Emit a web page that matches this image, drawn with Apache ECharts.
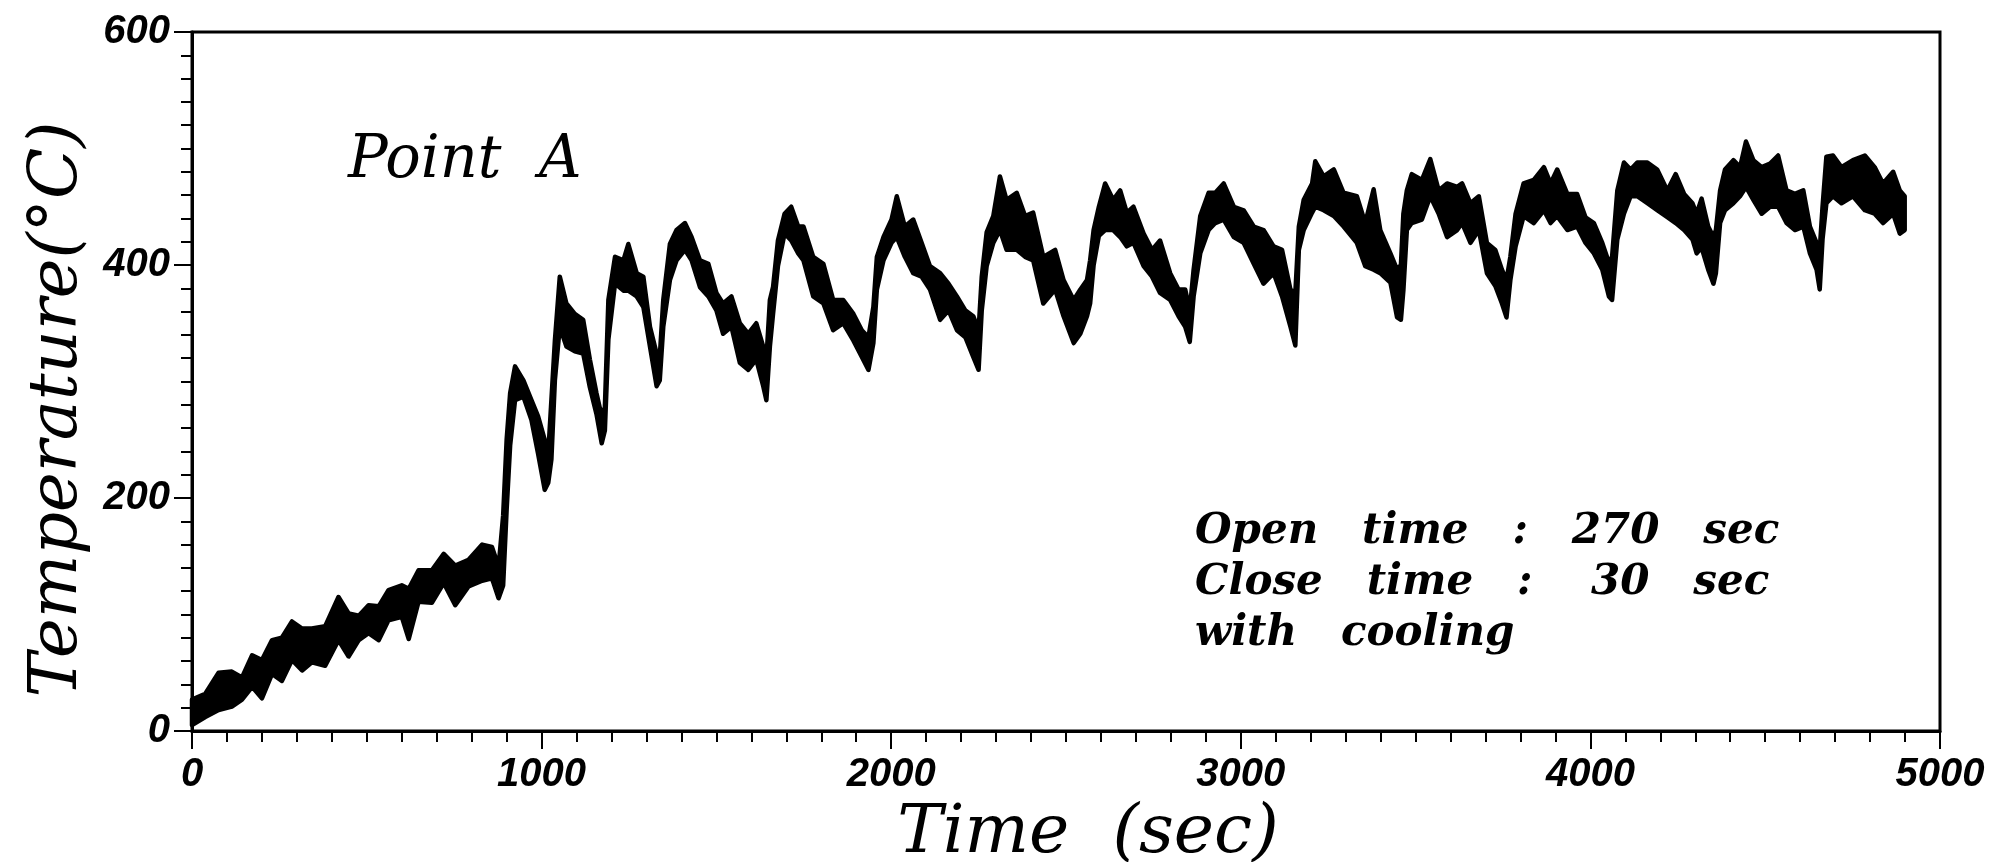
<!DOCTYPE html>
<html>
<head>
<meta charset="utf-8">
<script src="https://cdn.jsdelivr.net/npm/echarts@6.0.0/dist/echarts.min.js"></script>
<style>
  html, body { margin: 0; padding: 0; background: #fff; }
  #chart { width: 2004px; height: 862px; }
</style>
</head>
<body>
<div id="chart"></div>
<script>
// time (sec) and the upper / lower edge of the noisy temperature band
const time = [
  0, 38, 76, 114, 143, 172, 200, 229, 257, 286, 315, 343, 381, 419, 448, 477, 505, 534, 562, 600,
  620, 648, 686, 720, 753, 791, 830, 858, 877, 890, 900, 910, 924, 948, 971, 990, 1009, 1019, 1028, 1038,
  1052, 1071, 1095, 1119, 1138, 1157, 1172, 1181, 1191, 1210, 1234, 1248, 1272, 1291, 1310, 1329, 1338, 1348, 1367, 1386,
  1410, 1429, 1453, 1477, 1500, 1519, 1543, 1567, 1591, 1614, 1634, 1643, 1653, 1662, 1676, 1695, 1714, 1734, 1749, 1777,
  1806, 1834, 1863, 1892, 1916, 1935, 1949, 1959, 1978, 2001, 2016, 2039, 2063, 2087, 2111, 2140, 2164, 2188, 2212, 2235,
  2250, 2259, 2273, 2292, 2311, 2330, 2359, 2383, 2406, 2435, 2469, 2493, 2522, 2541, 2560, 2569, 2579, 2594, 2612, 2635,
  2655, 2674, 2693, 2722, 2746, 2769, 2798, 2822, 2841, 2854, 2865, 2884, 2908, 2927, 2951, 2980, 3008, 3037, 3065, 3094,
  3118, 3142, 3156, 3166, 3180, 3204, 3213, 3237, 3266, 3294, 3332, 3356, 3380, 3399, 3428, 3447, 3458, 3465, 3475, 3489,
  3518, 3542, 3566, 3590, 3619, 3633, 3657, 3681, 3704, 3728, 3747, 3760, 3771, 3786, 3809, 3838, 3867, 3886, 3905, 3934,
  3962, 3986, 4010, 4034, 4053, 4062, 4077, 4096, 4115, 4134, 4163, 4191, 4220, 4244, 4268, 4292, 4304, 4318, 4337, 4352,
  4359, 4371, 4385, 4409, 4428, 4445, 4466, 4490, 4514, 4537, 4561, 4585, 4609, 4628, 4647, 4656, 4664, 4675, 4694, 4718,
  4751, 4785, 4813, 4837, 4866, 4885, 4899
];
const upper = [
  27, 32, 50, 51, 46, 65, 61, 78, 80, 94, 88, 88, 90, 115, 101, 99, 108, 107, 121, 125,
  122, 138, 138, 152, 142, 147, 160, 158, 141, 185, 250, 290, 313, 301, 284, 270, 250, 238, 284, 335,
  390, 367, 358, 353, 319, 290, 270, 278, 370, 407, 404, 418, 393, 390, 347, 324, 321, 370, 418, 430,
  436, 424, 404, 401, 376, 367, 373, 350, 341, 350, 330, 319, 370, 381, 421, 444, 450, 433, 433, 407,
  401, 370, 370, 358, 344, 338, 364, 407, 424, 439, 459, 433, 439, 419, 399, 393, 384, 373, 361, 356,
  344, 390, 428, 442, 476, 456, 462, 442, 445, 407, 413, 387, 370, 379, 387, 404, 430, 450, 470, 456,
  464, 445, 450, 427, 413, 421, 393, 379, 379, 361, 396, 442, 462, 462, 470, 450, 447, 433, 430, 416,
  413, 379, 376, 433, 456, 470, 489, 476, 482, 462, 459, 436, 465, 430, 410, 396, 400, 444, 464, 478,
  473, 491, 464, 470, 467, 470, 453, 459, 419, 413, 396, 387, 407, 444, 470, 473, 484, 470, 482, 461,
  461, 441, 436, 419, 402, 407, 464, 488, 482, 488, 488, 482, 464, 478, 461, 453, 444, 457, 433, 424,
  430, 464, 482, 490, 484, 506, 490, 484, 487, 494, 464, 461, 464, 433, 419, 413, 450, 493, 494, 484,
  490, 494, 484, 470, 480, 464, 459
];
const lower = [
  5, 12, 18, 21, 27, 38, 28, 49, 43, 61, 52, 59, 56, 78, 64, 78, 84, 78, 95, 98,
  79, 111, 110, 127, 108, 124, 129, 131, 114, 125, 190, 245, 284, 287, 267, 238, 207, 213, 233, 301,
  347, 330, 326, 324, 295, 272, 247, 258, 336, 384, 378, 378, 373, 364, 330, 296, 301, 347, 387, 404,
  413, 404, 381, 373, 361, 341, 347, 316, 310, 319, 296, 284, 330, 358, 399, 427, 421, 410, 404, 373,
  367, 344, 350, 335, 321, 310, 333, 379, 404, 419, 424, 407, 393, 390, 379, 353, 361, 344, 338, 321,
  310, 361, 399, 419, 430, 413, 413, 407, 404, 367, 379, 356, 333, 341, 356, 367, 400, 425, 430, 430,
  424, 416, 419, 399, 390, 376, 370, 356, 347, 334, 373, 410, 430, 436, 439, 424, 419, 401, 384, 393,
  373, 347, 331, 413, 430, 445, 450, 447, 442, 433, 419, 399, 396, 393, 385, 355, 353, 378, 430, 436,
  439, 459, 444, 424, 430, 436, 419, 430, 393, 382, 367, 355, 387, 416, 442, 436, 447, 436, 442, 430,
  433, 419, 410, 396, 373, 370, 422, 444, 459, 459, 453, 447, 441, 436, 430, 422, 410, 415, 396, 384,
  393, 436, 447, 453, 459, 467, 456, 444, 450, 450, 436, 430, 433, 410, 396, 379, 422, 453, 459, 453,
  459, 447, 444, 436, 444, 427, 430
];
const xTicks = [0, 1000, 2000, 3000, 4000, 5000];
const yTicks = [0, 200, 400, 600];
const notes = ['Open   time   :   270   sec', 'Close   time   :    30   sec', 'with   cooling'];

const chart = echarts.init(document.getElementById('chart'), null, { renderer: 'canvas' });

const tickFont = {
  color: '#000',
  fontFamily: 'Liberation Sans',
  fontStyle: 'italic',
  fontWeight: 'bold',
  fontSize: 40
};
const nameFont = {
  color: '#000',
  fontFamily: 'DejaVu Serif',
  fontStyle: 'italic'
};

// the band between the lower and upper edges, drawn as one filled polygon
function renderBand (params, api) {
  if (params.dataIndex !== 0) return;
  const pts = [];
  for (let i = 0; i < time.length; i++) pts.push(api.coord([time[i], upper[i]]));
  for (let i = time.length - 1; i >= 0; i--) pts.push(api.coord([time[i], lower[i]]));
  return {
    type: 'polygon',
    shape: { points: pts },
    style: { fill: '#000', stroke: '#000', lineWidth: 4.5, lineJoin: 'round' }
  };
}

chart.setOption({
  animation: false,
  backgroundColor: '#fff',
  grid: {
    left: 192, right: 64, top: 32, bottom: 131,
    outerBoundsMode: 'none',
    containLabel: false,
    show: true, borderColor: '#000', borderWidth: 3, backgroundColor: 'transparent'
  },
  xAxis: {
    type: 'value',
    min: xTicks[0], max: xTicks[xTicks.length - 1], interval: 1000,
    name: 'Time  (sec)',
    nameLocation: 'middle',
    nameGap: 51,
    nameTextStyle: Object.assign({ fontSize: 68, padding: [0, 0, 0, 44] }, nameFont),
    axisLine: { lineStyle: { color: '#000', width: 3 } },
    axisTick: { length: 18, lineStyle: { color: '#000', width: 2 } },
    minorTick: { show: true, splitNumber: 10, length: 11, lineStyle: { color: '#000', width: 2 } },
    splitLine: { show: false },
    axisLabel: Object.assign({ margin: 24, formatter: v => String(v) }, tickFont)
  },
  yAxis: {
    type: 'value',
    min: yTicks[0], max: yTicks[yTicks.length - 1], interval: 200,
    name: 'Temperature(°C)',
    nameLocation: 'middle',
    nameGap: 98,
    nameTextStyle: Object.assign({ fontSize: 67, padding: [0, 0, 0, -56] }, nameFont),
    axisLine: { lineStyle: { color: '#000', width: 3 } },
    axisTick: { length: 18, lineStyle: { color: '#000', width: 2 } },
    minorTick: { show: true, splitNumber: 10, length: 11, lineStyle: { color: '#000', width: 2 } },
    splitLine: { show: false },
    axisLabel: Object.assign({ margin: 22 }, tickFont)
  },
  graphic: [
    {
      type: 'text', left: 348, top: 132, z: 100,
      style: { text: 'Point  A', font: 'italic 59px "DejaVu Serif"', fill: '#000' }
    },
    {
      type: 'text', left: 1195, top: 507, z: 100,
      style: {
        text: notes.join('\n'),
        font: 'italic bold 42px "DejaVu Serif"',
        lineHeight: 51,
        fill: '#000'
      }
    }
  ],
  series: [
    {
      type: 'custom',
      renderItem: renderBand,
      data: time.map((t, i) => [t, upper[i], lower[i]]),
      encode: { x: 0, y: [1, 2] },
      silent: true
    }
  ]
});
</script>
</body>
</html>
